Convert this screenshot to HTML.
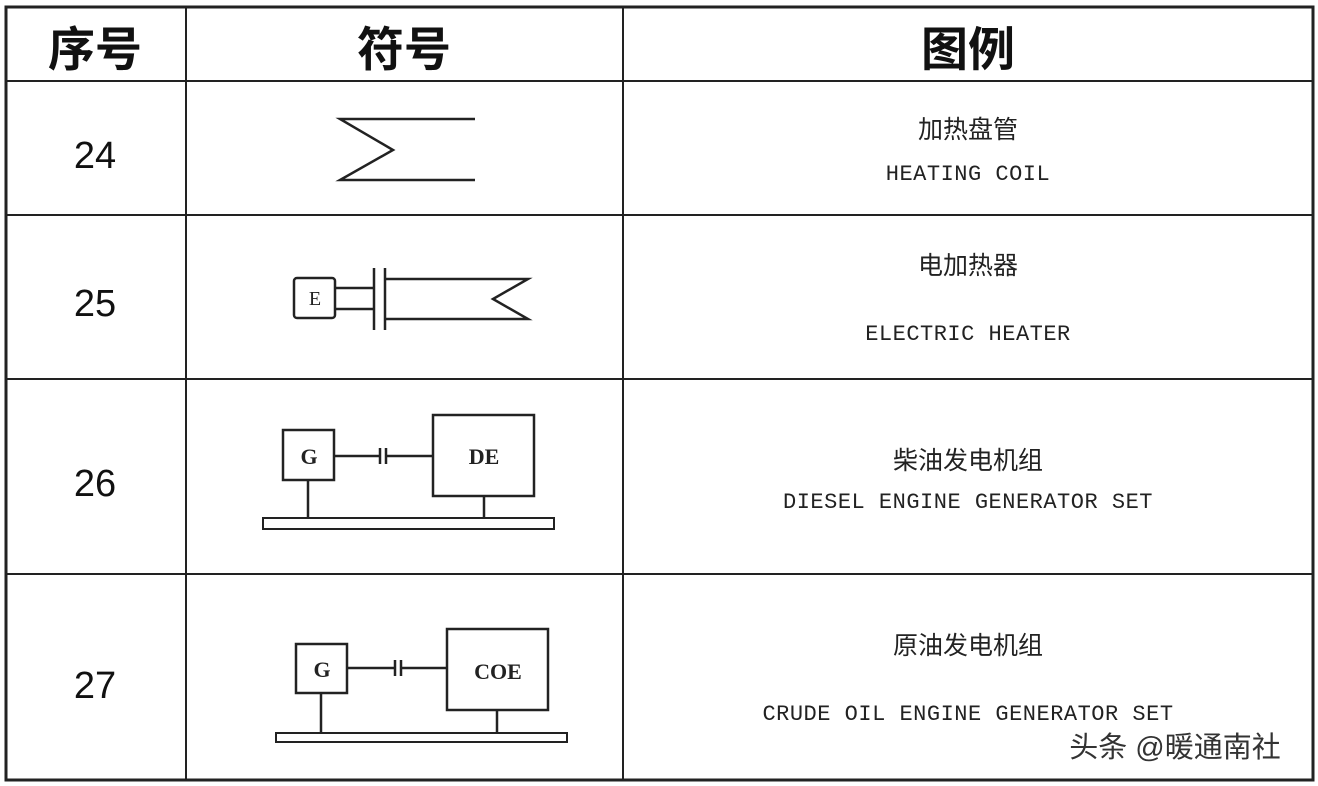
<!DOCTYPE html>
<html><head><meta charset="utf-8"><style>
html,body{margin:0;padding:0;background:#fff}
svg{display:block}
.cn{font-family:"Liberation Sans","Noto Sans CJK SC",sans-serif}
.en{font-family:"Liberation Mono","DejaVu Sans Mono",monospace}
.se{font-family:"Liberation Serif",serif;font-weight:bold}
</style></head><body>
<svg width="1318" height="786" viewBox="0 0 1318 786" xmlns="http://www.w3.org/2000/svg">
<rect width="1318" height="786" fill="#fff"/>
<g stroke="#222" fill="none">
<rect x="6" y="7" width="1307" height="773" stroke-width="3"/>
<line x1="186" y1="7" x2="186" y2="780" stroke-width="2"/>
<line x1="623" y1="7" x2="623" y2="780" stroke-width="2"/>
<line x1="6" y1="81" x2="1313" y2="81" stroke-width="2"/>
<line x1="6" y1="215" x2="1313" y2="215" stroke-width="2"/>
<line x1="6" y1="379" x2="1313" y2="379" stroke-width="2"/>
<line x1="6" y1="574" x2="1313" y2="574" stroke-width="2"/>
</g>
<g class="cn" font-weight="bold" font-size="47" text-anchor="middle" fill="#111">
<text x="95" y="66">序号</text><text x="404" y="66">符号</text><text x="968" y="66">图例</text>
</g>
<g class="cn" font-size="38" text-anchor="middle" fill="#111">
<text x="95" y="168">24</text><text x="95" y="316">25</text><text x="95" y="496">26</text><text x="95" y="698">27</text>
</g>
<g class="cn" font-size="25" text-anchor="middle" fill="#222">
<text x="968" y="138">加热盘管</text><text x="968" y="274">电加热器</text>
<text x="968" y="469">柴油发电机组</text><text x="968" y="654">原油发电机组</text>
</g>
<g class="en" font-size="22" text-anchor="middle" fill="#222" letter-spacing="0.5">
<text x="968" y="180">HEATING COIL</text><text x="968" y="340">ELECTRIC HEATER</text>
<text x="968" y="508">DIESEL ENGINE GENERATOR SET</text><text x="968" y="720">CRUDE OIL ENGINE GENERATOR SET</text>
</g>
<g stroke="#222" fill="none" stroke-width="2.5">
<polyline points="475,119 340,119 393,150 340,180 475,180"/>
<rect x="294" y="278" width="41" height="40" rx="3"/>
<line x1="335" y1="288" x2="374" y2="288"/><line x1="335" y1="309" x2="374" y2="309"/>
<line x1="374" y1="268" x2="374" y2="330"/><line x1="385" y1="268" x2="385" y2="330"/>
<polyline points="385,279 528,279 493,299 528,319 385,319"/>
<rect x="283" y="430" width="51" height="50"/>
<line x1="334" y1="456" x2="380" y2="456"/><line x1="386" y1="456" x2="433" y2="456"/>
<line x1="380" y1="448" x2="380" y2="464"/><line x1="386" y1="448" x2="386" y2="464"/>
<rect x="433" y="415" width="101" height="81"/>
<line x1="308" y1="480" x2="308" y2="518"/><line x1="484" y1="496" x2="484" y2="518"/>
<rect x="263" y="518" width="291" height="11" stroke-width="2"/>
<rect x="296" y="644" width="51" height="49"/>
<line x1="347" y1="668" x2="395" y2="668"/><line x1="401" y1="668" x2="447" y2="668"/>
<line x1="395" y1="660" x2="395" y2="676"/><line x1="401" y1="660" x2="401" y2="676"/>
<rect x="447" y="629" width="101" height="81"/>
<line x1="321" y1="693" x2="321" y2="733"/><line x1="497" y1="710" x2="497" y2="733"/>
<rect x="276" y="733" width="291" height="9" stroke-width="2"/>
</g>
<g class="se" font-size="22" text-anchor="middle" fill="#222">
<text x="315" y="305" font-weight="normal" font-size="20">E</text>
<text x="309" y="464">G</text><text x="484" y="464">DE</text>
<text x="322" y="677">G</text><text x="498" y="679">COE</text>
</g>
<text x="1175" y="757" class="cn" font-size="29" text-anchor="middle" fill="#333">头条 @暖通南社</text>
</svg>
</body></html>
